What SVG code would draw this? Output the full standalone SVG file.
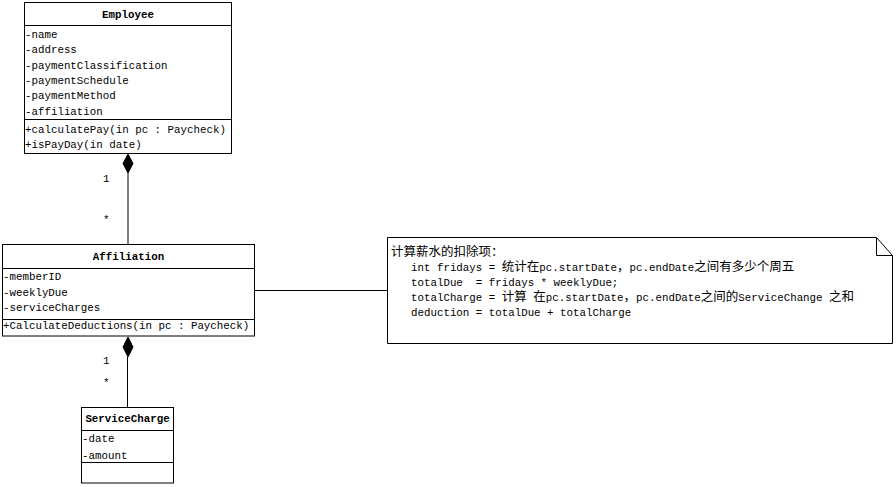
<svg xmlns="http://www.w3.org/2000/svg" width="896" height="487" viewBox="0 0 896 487">
<style>
  .box{fill:#fff;stroke:#000;stroke-width:1}
  .sep{stroke:#000;stroke-width:1}
  .t{font-family:"Liberation Mono","Noto Sans CJK SC",monospace;font-size:10.8px;fill:#000}
  .title{font-family:"Liberation Mono",monospace;font-size:10.8px;font-weight:bold;fill:#000;text-anchor:middle}
  .cjk{font-family:"Noto Sans CJK SC",sans-serif;font-size:12.5px}
  .conn{stroke:#000;stroke-width:1;fill:none}
  .dia{fill:#000;stroke:#000;stroke-width:1}
</style>
<rect width="896" height="487" fill="#fff"/>

<g id="Employee">
  <rect class="box" x="24.5" y="2.5" width="207" height="151"/>
  <line class="sep" x1="24.5" y1="25.5" x2="231.5" y2="25.5"/>
  <line class="sep" x1="24.5" y1="119.5" x2="231.5" y2="119.5"/>
  <text class="title" x="128" y="18">Employee</text>
  <text class="t" x="25" y="38">-name</text>
  <text class="t" x="25" y="53">-address</text>
  <text class="t" x="25" y="68.5">-paymentClassification</text>
  <text class="t" x="25" y="84">-paymentSchedule</text>
  <text class="t" x="25" y="99">-paymentMethod</text>
  <text class="t" x="25" y="114.5">-affiliation</text>
  <text class="t" x="25" y="132.5">+calculatePay(in pc : Paycheck)</text>
  <text class="t" x="25" y="148">+isPayDay(in date)</text>
</g>

<g id="Affiliation">
  <rect class="box" x="2.5" y="244.5" width="252" height="91.5"/>
  <line class="sep" x1="2.5" y1="268.5" x2="254.5" y2="268.5"/>
  <line class="sep" x1="2.5" y1="319.5" x2="254.5" y2="319.5"/>
  <text class="title" x="128.5" y="259.5">Affiliation</text>
  <text class="t" x="3" y="280">-memberID</text>
  <text class="t" x="3" y="295.5">-weeklyDue</text>
  <text class="t" x="3" y="311">-serviceCharges</text>
  <text class="t" x="3" y="328.5">+CalculateDeductions(in pc : Paycheck)</text>
</g>

<g id="ServiceCharge">
  <rect class="box" x="81.5" y="407.5" width="92" height="75.5"/>
  <line class="sep" x1="81.5" y1="430.5" x2="173.5" y2="430.5"/>
  <line class="sep" x1="81.5" y1="462.5" x2="173.5" y2="462.5"/>
  <text class="title" x="127.5" y="422">ServiceCharge</text>
  <text class="t" x="82" y="442">-date</text>
  <text class="t" x="82" y="458.5">-amount</text>
</g>

<g id="Note">
  <path class="box" d="M387.5,237.5 H876.5 L892.5,255.5 V343.5 H387.5 Z"/>
  <path class="conn" d="M876.5,237.5 V255.5 H892.5"/>
  <text class="t" x="391" y="255.5"><tspan class="cjk">计算薪水的扣除项：</tspan></text>
  <text class="t" x="411" y="271">int fridays = <tspan class="cjk">统计在</tspan>pc.startDate<tspan class="cjk">，</tspan>pc.endDate<tspan class="cjk">之间有多少个周五</tspan></text>
  <text class="t" x="411" y="286" xml:space="preserve" style="white-space:pre">totalDue  = fridays * weeklyDue;</text>
  <text class="t" x="411" y="301">totalCharge = <tspan class="cjk">计算</tspan> <tspan class="cjk">在</tspan>pc.startDate<tspan class="cjk">，</tspan>pc.endDate<tspan class="cjk">之间的</tspan>ServiceChange <tspan class="cjk">之和</tspan></text>
  <text class="t" x="411" y="316">deduction = totalDue + totalCharge</text>
</g>

<g id="connectors">
  <line class="conn" x1="128" y1="173" x2="128" y2="244.5"/>
  <polygon class="dia" points="128,154 133,163.5 128,173 123,163.5"/>
  <text class="t" x="103" y="182">1</text>
  <text class="t" x="103" y="223">*</text>

  <line class="conn" x1="127.5" y1="357" x2="127.5" y2="407.5"/>
  <polygon class="dia" points="128,337 133,347 128,357 123,347"/>
  <text class="t" x="103" y="364">1</text>
  <text class="t" x="103" y="386">*</text>

  <line class="conn" x1="254.5" y1="290.5" x2="387.5" y2="290.5"/>
</g>
</svg>
